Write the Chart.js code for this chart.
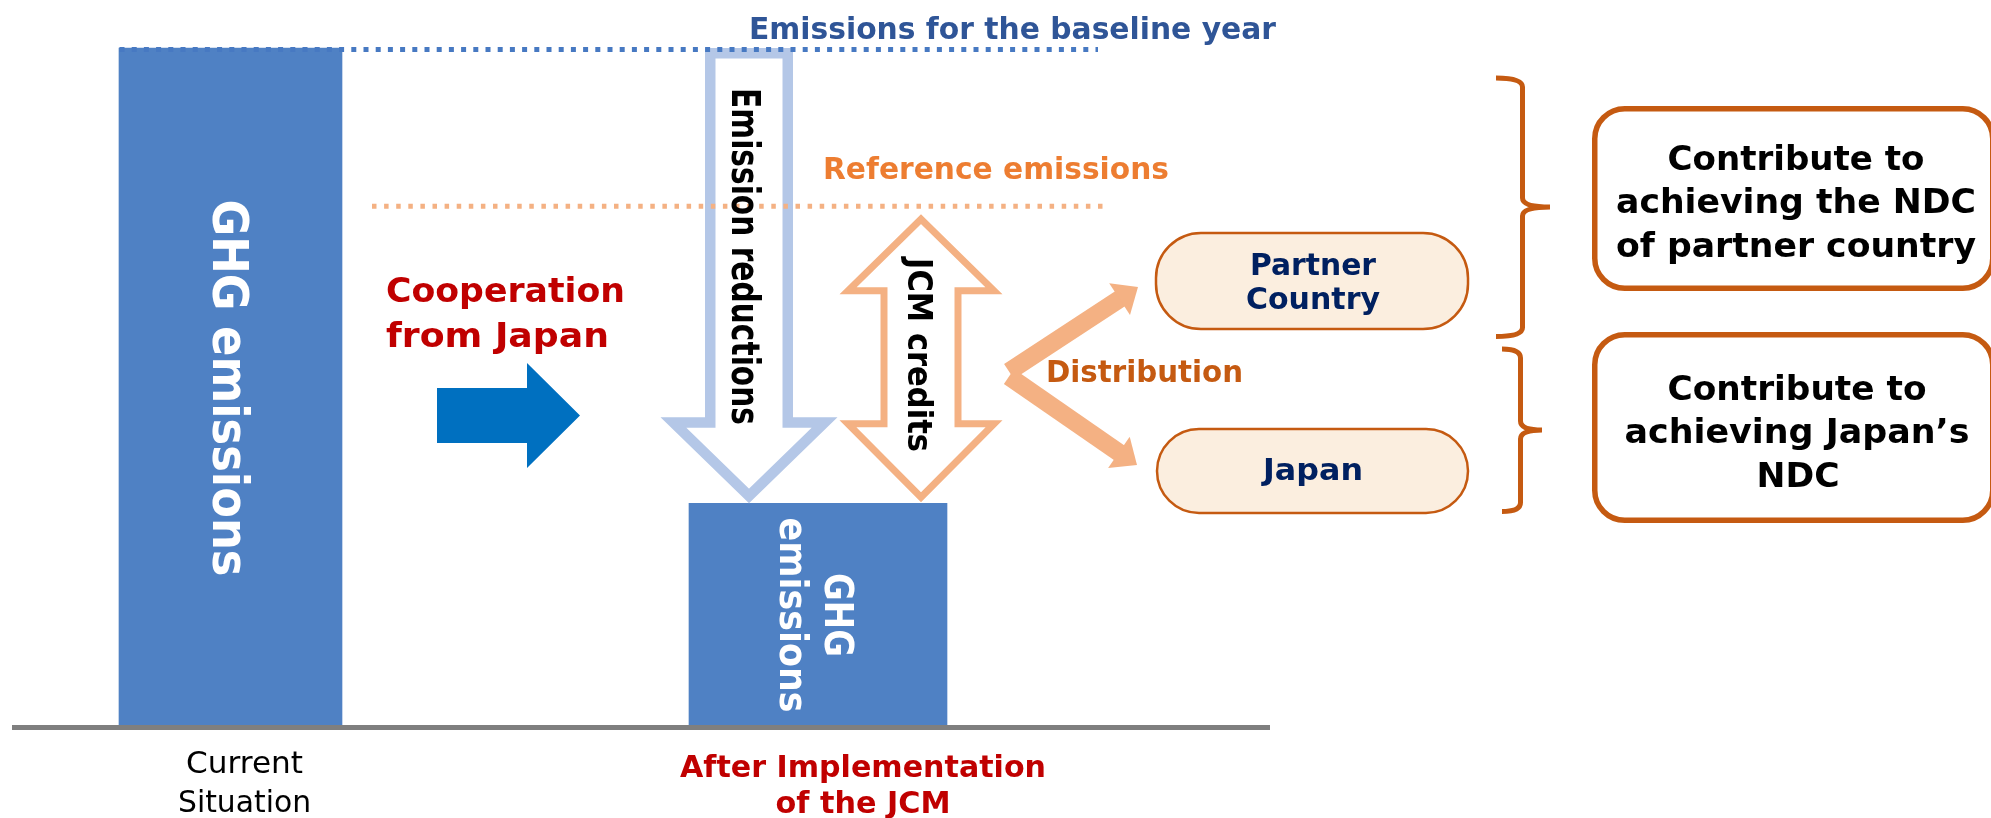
<!DOCTYPE html>
<html>
<head>
<meta charset="utf-8">
<script src="https://cdn.jsdelivr.net/npm/chart.js@4.4.1/dist/chart.umd.min.js"></script>
<style>
  html, body { margin: 0; padding: 0; background: #fff; }
  #wrap { width: 1991px; height: 818px; }
</style>
</head>
<body>
<div id="wrap"><canvas id="jcm" width="1991" height="818"></canvas></div>
<script>
// categories and emission levels (baseline year = 100)
const categories = [['Current', 'Situation'], ['After Implementation', 'of the JCM']];
const currentEmissions = [100, null];
const afterEmissions = [null, 33];
const baselineLevel = 100;
const referenceLevel = 77;

const barColor = '#4F81C4';
const font = '"DejaVu Sans", Verdana, sans-serif';

// text drawn at a fixed width (the original font is a bit narrower)
function fitText(ctx, text, x, y, size, width, color, opts) {
  opts = opts || {};
  ctx.save();
  ctx.font = (opts.weight || 'bold') + ' ' + size + 'px ' + font;
  ctx.fillStyle = color;
  ctx.textBaseline = 'alphabetic';
  ctx.textAlign = 'left';
  ctx.translate(x, y);
  if (opts.rotate) ctx.rotate(Math.PI / 2);
  const w = ctx.measureText(text).width;
  ctx.scale(width ? width / w : 1, 1);
  let dx = 0;
  if (opts.align === 'center') dx = -w / 2;
  ctx.fillText(text, dx, 0);
  ctx.restore();
}

function polyPath(ctx, pts) {
  ctx.beginPath();
  pts.forEach((p, i) => i ? ctx.lineTo(p[0], p[1]) : ctx.moveTo(p[0], p[1]));
  ctx.closePath();
}

// outline drawn only inside the shape
function hollowShape(ctx, pts, color, lw) {
  ctx.save();
  polyPath(ctx, pts);
  ctx.fillStyle = '#fff';
  ctx.fill();
  ctx.clip();
  ctx.lineWidth = lw * 2;
  ctx.lineJoin = 'miter';
  ctx.strokeStyle = color;
  ctx.stroke();
  ctx.restore();
}

function solidArrow(ctx, x0, y0, x1, y1, shaftW, headL, headW, color) {
  const len = Math.hypot(x1 - x0, y1 - y0);
  const ux = (x1 - x0) / len, uy = (y1 - y0) / len;
  const bx = x1 - ux * headL, by = y1 - uy * headL;
  ctx.save();
  ctx.strokeStyle = color;
  ctx.fillStyle = color;
  ctx.lineWidth = shaftW;
  ctx.lineCap = 'butt';
  ctx.beginPath();
  ctx.moveTo(x0, y0);
  ctx.lineTo(bx + ux, by + uy);
  ctx.stroke();
  polyPath(ctx, [[x1, y1], [bx - uy * headW, by + ux * headW], [bx + uy * headW, by - ux * headW]]);
  ctx.fill();
  ctx.restore();
}

function dotted(ctx, x0, x1, y, color, dash) {
  ctx.save();
  ctx.strokeStyle = color;
  ctx.lineWidth = 5;
  ctx.setLineDash(dash);
  ctx.beginPath();
  ctx.moveTo(x0, y);
  ctx.lineTo(x1, y);
  ctx.stroke();
  ctx.restore();
}

function brace(ctx, xl, xv, xn, top, nib, bot) {
  const r = 9;
  ctx.save();
  ctx.strokeStyle = '#C55A11';
  ctx.lineWidth = 5;
  ctx.lineCap = 'butt';
  ctx.beginPath();
  ctx.moveTo(xl, top);
  ctx.quadraticCurveTo(xv, top, xv, top + r);
  ctx.lineTo(xv, nib - r);
  ctx.quadraticCurveTo(xv, nib, xn, nib);
  ctx.moveTo(xn, nib);
  ctx.quadraticCurveTo(xv, nib, xv, nib + r);
  ctx.lineTo(xv, bot - r);
  ctx.quadraticCurveTo(xv, bot, xl, bot);
  ctx.stroke();
  ctx.restore();
}

function roundBox(ctx, x, y, w, h, r, fill, stroke, lw) {
  ctx.save();
  ctx.beginPath();
  ctx.roundRect(x, y, w, h, r);
  ctx.fillStyle = fill;
  ctx.fill();
  ctx.lineWidth = lw;
  ctx.strokeStyle = stroke;
  ctx.stroke();
  ctx.restore();
}

const diagram = {
  id: 'diagram',
  afterDatasetsDraw(chart) {
    const ctx = chart.ctx;
    const xs = chart.scales.x, ys = chart.scales.y;
    const x0 = xs.getPixelForValue(0), x1 = xs.getPixelForValue(1);
    const yZero = ys.getPixelForValue(0);
    const yBase = ys.getPixelForValue(baselineLevel) + 1.5;
    const yRef = ys.getPixelForValue(referenceLevel);
    const yAfter = ys.getPixelForValue(afterEmissions[1]);

    // ground line
    ctx.save();
    ctx.strokeStyle = '#7F7F7F';
    ctx.lineWidth = 5;
    ctx.beginPath();
    ctx.moveTo(12, yZero);
    ctx.lineTo(1270, yZero);
    ctx.stroke();
    ctx.restore();

    // labels in the bars
    fitText(ctx, 'GHG emissions', x0 - 18, 388, 49, 377, '#fff', { rotate: true, align: 'center' });
    fitText(ctx, 'GHG', x1 + 7, 615, 38.5, 84, '#fff', { rotate: true, align: 'center' });
    fitText(ctx, 'emissions', x1 - 38, 615, 38.5, 195, '#fff', { rotate: true, align: 'center' });

    // emission reductions arrow
    const ca = x1 - 69;
    hollowShape(ctx, [[ca - 44, yBase - 1.5], [ca + 44, yBase - 1.5], [ca + 44, yAfter - 86], [ca + 88.5, yAfter - 86],
      [ca, yAfter], [ca - 88.5, yAfter - 86], [ca - 44, yAfter - 86]], '#B4C7E7', 10.5);

    // JCM credits double arrow
    const cj = x1 + 103, jt = yRef + 10, jb = yAfter - 1;
    hollowShape(ctx, [[cj, jt], [cj + 81.5, jt + 80], [cj + 40.5, jt + 80], [cj + 40.5, jb - 82], [cj + 81.5, jb - 82],
      [cj, jb], [cj - 81.5, jb - 82], [cj - 40.5, jb - 82], [cj - 40.5, jt + 80], [cj - 81.5, jt + 80]], '#F4B183', 7);

    // level lines
    dotted(ctx, x0 - 111, 1098, yBase, '#4779C2', [5, 7.2]);
    dotted(ctx, 372, 1107, yRef + 2, '#F4B183', [4.5, 7.6]);

    fitText(ctx, 'Emission reductions', ca - 17, 256.5, 38.5, 337, '#000', { rotate: true, align: 'center' });
    fitText(ctx, 'JCM credits', cj - 13, 355, 33.5, 194, '#000', { rotate: true, align: 'center' });

    fitText(ctx, 'Emissions for the baseline year', 749, 39, 30, 527, '#2F5597');
    fitText(ctx, 'Reference emissions', 823, yRef - 25.5, 30, 346, '#ED7D31');

    // cooperation arrow
    ctx.save();
    polyPath(ctx, [[437, 388], [527, 388], [527, 363], [580, 415.5], [527, 468], [527, 443], [437, 443]]);
    ctx.fillStyle = '#0070C0';
    ctx.fill();
    ctx.restore();
    fitText(ctx, 'Cooperation', 386, 302, 34, 239, '#C00000');
    fitText(ctx, 'from Japan', 386, 347, 34, 223, '#C00000');

    // distribution
    solidArrow(ctx, 1009, 371.5, 1138, 287, 18, 22, 19, '#F4B183');
    solidArrow(ctx, 1009, 376.5, 1137, 465, 18, 22, 19, '#F4B183');
    fitText(ctx, 'Distribution', 1046, 382, 30, 197, '#C55A11');

    roundBox(ctx, 1156, 233, 312, 96, 45, '#FBEEDF', '#C55A11', 2.5);
    roundBox(ctx, 1157, 429, 311, 84, 42, '#FBEEDF', '#C55A11', 2.5);
    fitText(ctx, 'Partner', 1313, 275, 31, 126, '#002060', { align: 'center' });
    fitText(ctx, 'Country', 1313, 309, 31, 134, '#002060', { align: 'center' });
    fitText(ctx, 'Japan', 1313, 480, 31, 100, '#002060', { align: 'center' });

    brace(ctx, 1496, 1522.5, 1550, 78, 207, 336.5);
    brace(ctx, 1502, 1520.5, 1542, 349, 430, 511.5);

    roundBox(ctx, 1594.75, 108.75, 398, 179.5, 30, '#fff', '#C55A11', 5.5);
    roundBox(ctx, 1594.75, 334.75, 398, 185.5, 30, '#fff', '#C55A11', 5.5);
    fitText(ctx, 'Contribute to', 1796, 170, 34, 257, '#000', { align: 'center' });
    fitText(ctx, 'achieving the NDC', 1796, 213, 34, 360, '#000', { align: 'center' });
    fitText(ctx, 'of partner country', 1796, 257, 34, 360, '#000', { align: 'center' });
    fitText(ctx, 'Contribute to', 1797, 400, 34, 259, '#000', { align: 'center' });
    fitText(ctx, 'achieving Japan\u2019s', 1797, 443, 34, 345, '#000', { align: 'center' });
    fitText(ctx, 'NDC', 1798, 487, 34, 83, '#000', { align: 'center' });

    // category labels under the ground line
    const labelWidths = [[117, 133], [366, 175]];
    fitText(ctx, categories[0][0], x0 + 14, 773, 31, labelWidths[0][0], '#000', { weight: 'normal', align: 'center' });
    fitText(ctx, categories[0][1], x0 + 14, 812, 31, labelWidths[0][1], '#000', { weight: 'normal', align: 'center' });
    fitText(ctx, categories[1][0], x1 + 45, 777, 30, labelWidths[1][0], '#C00000', { align: 'center' });
    fitText(ctx, categories[1][1], x1 + 45, 813, 30, labelWidths[1][1], '#C00000', { align: 'center' });
  }
};

new Chart(document.getElementById('jcm').getContext('2d'), {
  type: 'bar',
  data: {
    labels: categories,
    datasets: [
      { label: 'Current', data: currentEmissions, backgroundColor: barColor, barThickness: 223, grouped: false, clip: false },
      { label: 'After JCM', data: afterEmissions, backgroundColor: barColor, barThickness: 258, grouped: false, clip: false }
    ]
  },
  options: {
    responsive: false,
    animation: false,
    events: [],
    layout: { padding: { left: 230.5, right: 1173, top: 48, bottom: 90.5 } },
    plugins: { legend: { display: false }, tooltip: { enabled: false } },
    scales: {
      x: { display: false, offset: false },
      y: { display: false, min: 0, max: 100 }
    }
  },
  plugins: [diagram]
});
</script>
</body>
</html>
